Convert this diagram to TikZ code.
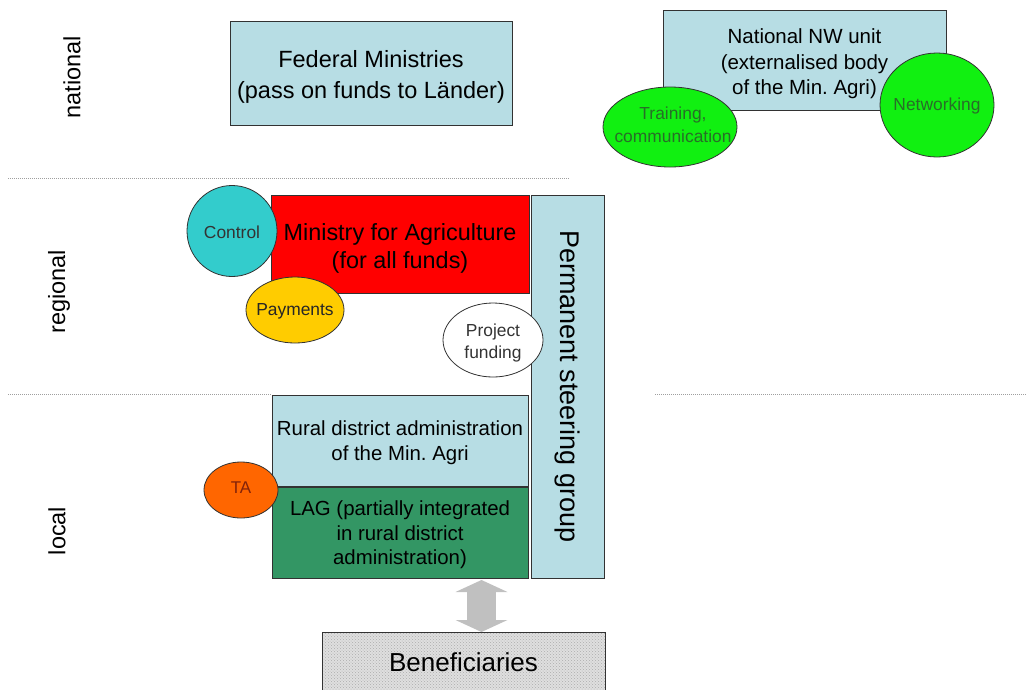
\documentclass[tikz,border=0pt]{standalone}
\usepackage{fontspec}
\setmainfont{Liberation Sans}
\usetikzlibrary{shapes.geometric,arrows.meta,patterns}
\frenchspacing

\definecolor{paleblue}{RGB}{183,221,228}
\definecolor{minred}{RGB}{255,0,0}
\definecolor{ctrlcyan}{RGB}{51,204,204}
\definecolor{payyellow}{RGB}{255,204,0}
\definecolor{nwgreen}{RGB}{17,240,17}
\definecolor{nwtext}{RGB}{40,110,40}
\definecolor{taorange}{RGB}{255,102,0}
\definecolor{tatext}{RGB}{130,35,10}
\definecolor{laggreen}{RGB}{51,150,100}
\definecolor{outline}{RGB}{50,50,50}
\definecolor{arrowgray}{RGB}{192,192,192}

\tikzset{
  box/.style={draw=outline, line width=0.8pt, inner sep=0pt, align=center},
  oval/.style={ellipse, draw=outline, line width=0.8pt, inner sep=0pt},
  inside/.style={align=center, inner sep=0pt},
  big/.style={font=\fontsize{23.5}{31}\selectfont},
  mid/.style={font=\fontsize{20.4}{25}\selectfont},
  small/.style={font=\fontsize{17.4}{22.5}\selectfont},
  level/.style={font=\fontsize{23.5}{28}\selectfont, rotate=90, inner sep=0pt},
  sepline/.style={draw=gray!75, line width=0.9pt, dash pattern=on 1pt off 1pt},
  updown/.style={draw=arrowgray, line width=29pt,
    {Triangle[width=52pt,length=12pt,line width=0pt]}-{Triangle[width=52pt,length=12pt,line width=0pt]}}
}

\begin{document}
\begin{tikzpicture}[x=1pt,y=-1pt]
\useasboundingbox (0,0) rectangle (1027,689);
\clip (0,0) rectangle (1027,689);

% level labels
\node[level] (lnational) at (72,77) {national};
\node[level] (lregional) at (59,292) {regional};
\node[level] (llocal)    at (57,531) {local};

% separators between the levels
\draw[sepline] (8,178) -- (569,178);
\draw[sepline] (8,394) -- (272,394);
\draw[sepline] (655,394) -- (1027,394);

% national level
\node[box, fill=paleblue, minimum width=282pt, minimum height=104pt,
  label={[inside, big, yshift=-4pt]center:Federal Ministries\\(pass on funds to Länder)}]
  (federal) at (371,73) {};

\node[box, fill=paleblue, minimum width=283pt, minimum height=100pt,
  label={[inside, font=\fontsize{20.5}{25.5}\selectfont, yshift=-4pt]center:National NW unit\\(externalised body\\of the Min. Agri)}]
  (nwunit) at (804.5,60) {};
\node[oval, fill=nwgreen, minimum width=134pt, minimum height=80pt,
  label={[inside, small, text=nwtext, xshift=3pt, yshift=2pt]center:Training,\\communication}]
  (training) at (670,127) {};
\node[oval, fill=nwgreen, minimum width=114pt, minimum height=104pt,
  label={[inside, small, text=nwtext, yshift=-1pt]center:Networking}]
  (networking) at (937,105) {};

% regional level
\node[box, fill=minred, minimum width=258pt, minimum height=98pt,
  label={[inside, font=\fontsize{23.4}{28}\selectfont, yshift=-4pt]center:Ministry for Agriculture\\(for all funds)}]
  (ministry) at (400,244) {};
\node[oval, fill=ctrlcyan, minimum width=90pt, minimum height=91pt,
  label={[inside, small, text=black!80, yshift=-1pt]center:Control}]
  (control) at (232,231) {};
\node[oval, fill=payyellow, minimum width=98pt, minimum height=66pt,
  label={[inside, small, text=black!85, yshift=-1pt]center:Payments}]
  (payments) at (295,310) {};

\node[box, font=\fontsize{27}{32}\selectfont, fill=paleblue, rotate=-90,
  minimum width=383pt, minimum height=73pt]
  (steering) at (567.5,386.5) {Permanent steering group};
\node[oval, fill=white, minimum width=100pt, minimum height=74pt,
  label={[inside, small, text=black!80, yshift=-3pt]center:Project\\funding}]
  (project) at (493,340) {};

% local level
\node[box, fill=paleblue, minimum width=256pt, minimum height=91pt,
  label={[inside, mid, yshift=-2pt]center:Rural district administration\\of the Min. Agri}]
  (rural) at (400,440.5) {};
\node[box, fill=laggreen, minimum width=256pt, minimum height=91pt,
  label={[inside, font=\fontsize{20.4}{24.5}\selectfont, yshift=-2.5pt]center:LAG (partially integrated\\in rural district\\administration)}]
  (lag) at (400,532.5) {};
\node[oval, fill=taorange, minimum width=74pt, minimum height=56pt,
  label={[inside, font=\fontsize{17}{20}\selectfont, text=tatext, yshift=2pt]center:TA}]
  (ta) at (241,490) {};

% beneficiaries and the two-way link to the LAG
\node[box, font=\fontsize{26}{30}\selectfont,
  preaction={fill=gray!25},
  pattern=crosshatch dots, pattern color=gray!65,
  minimum width=283pt, minimum height=60pt]
  (benef) at (463.5,662) {Beneficiaries};

\coordinate (linktop) at (481.5,580);
\coordinate (linkbot) at (481.5,632);
\draw[updown] (linktop) -- (linkbot);
\end{tikzpicture}
\end{document}
